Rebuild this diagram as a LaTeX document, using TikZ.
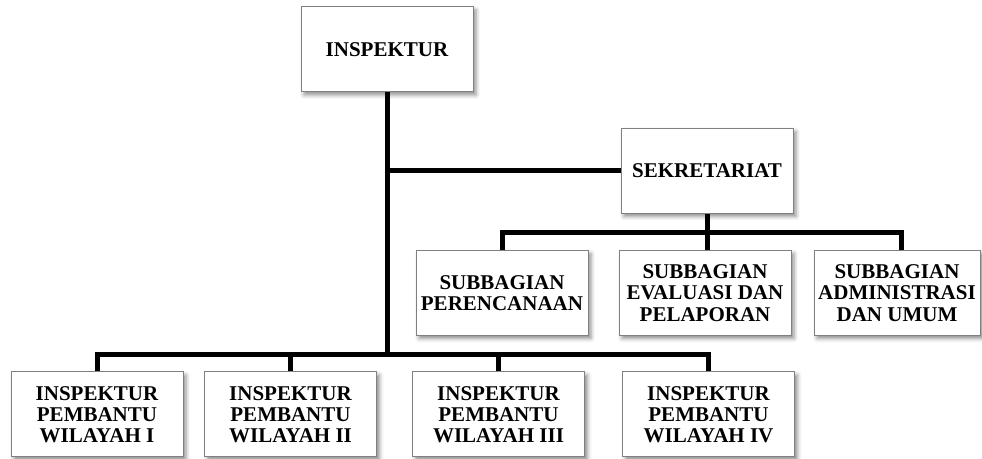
\documentclass[tikz,border=0pt]{standalone}
\usepackage{fontspec}
\setmainfont{Liberation Serif}
\usetikzlibrary{calc,positioning,shadows.blur}
\tikzset{
  unit/.style = {draw = black!50, fill = white, line width = .5pt, minimum width = #1, minimum height = 42.5pt, inner sep = 0pt, align = center, font = \fontsize{10.5}{10.6}\selectfont\bfseries, blur shadow = {shadow xshift = 1.5pt, shadow yshift = -1.5pt, shadow blur radius = 2pt, shadow opacity = 45}},
  unit/.default = 86pt,
  wire/.style = {draw = black, line width = 2.5pt}
}
\begin{document}
\begin{tikzpicture}[x=.5pt,y=-.5pt]
  \useasboundingbox (0,0) rectangle (982,459);
  % top
  \node[unit] (insp) at (387,49.5) {INSPEKTUR};
  \node[unit] (sekr) at (707,171) {SEKRETARIAT};
  \foreach \m/\xi/\t in {sub1/502/{SUBBAGIAN\\PERENCANAAN},sub2/705/{SUBBAGIAN\\EVALUASI DAN\\PELAPORAN}}{
    \node[unit] (\m) at (\xi,293) {\t};
  }
  \node[unit=83pt] (sub3) at (897,293) {SUBBAGIAN\\ADMINISTRASI\\DAN UMUM};
  % wilayah
  \foreach \m/\xi/\t in {pem1/97/I,pem2/290.5/II,pem3/498.5/III,pem4/708.5/IV}{
    \node[unit] (\m) at (\xi,414.5) {INSPEKTUR\\PEMBANTU\\WILAYAH \t};
  }
  \coordinate (busA) at (387,355);
  \coordinate (busB) at (707,233);
  \draw[wire] (insp.south) -- (busA);
  \draw[wire] (insp.south |- sekr.west) -- (sekr.west);
  \draw[wire] (pem1.north) |- (busA) -| (pem4.north);
  \foreach \m in {pem2,pem3}{
    \draw[wire] (\m.north) -- (\m.north |- busA);
  }
  \draw[wire] (sekr.south) -- (busB);
  \draw[wire] ([xshift=2pt]sub3.north) |- (busB) -| (sub1.north);
  \draw[wire] (busB) -- (busB |- sub2.north);
\end{tikzpicture}
\end{document}
